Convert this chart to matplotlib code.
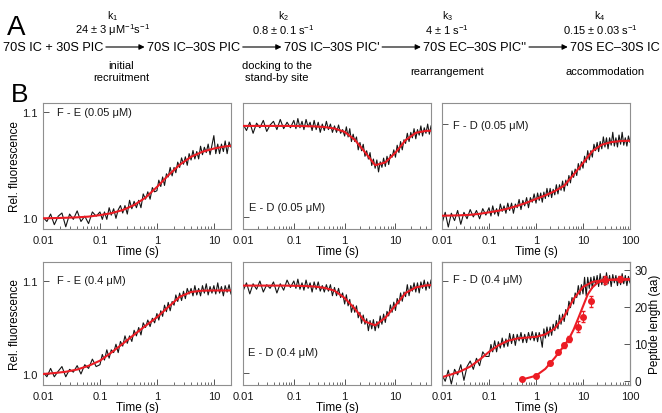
import matplotlib

matplotlib.use("Agg")
import matplotlib.pyplot as plt  # noqa: E402
import numpy as np  # noqa: E402

plt.rcParams.update(
    {
        "font.family": ["Liberation Sans", "DejaVu Sans"],
        "font.size": 8,
        "mathtext.fontset": "custom",
        "mathtext.rm": "Liberation Sans",
        "mathtext.it": "Liberation Sans:italic",
        "mathtext.bf": "Liberation Sans:bold",
    }
)

RED = "#ec1c24"
TRACE = "#141414"
SPINE = "#8f8f8f"
W, H = 662, 414

# stopped-flow sampling times (s), shared by all traces
TIME = [
    0.0100, 0.0117, 0.0136, 0.0158, 0.0185, 0.0215, 0.0251, 0.0293, 0.0341, 0.0398,
    0.0464, 0.0541, 0.0631, 0.0736, 0.0858,
    0.100, 0.110, 0.120, 0.132, 0.145, 0.158, 0.174, 0.191, 0.209, 0.229,
    0.251, 0.275, 0.302, 0.331, 0.363, 0.398, 0.437, 0.479, 0.525, 0.575,
    0.631, 0.692, 0.759, 0.832, 0.912,
    1.00, 1.08, 1.17, 1.26, 1.36, 1.47, 1.58, 1.71, 1.85, 2.00,
    2.15, 2.32, 2.51, 2.71, 2.93, 3.16, 3.41, 3.68, 3.98, 4.30,
    4.64, 5.01, 5.41, 5.84, 6.31, 6.81, 7.36, 7.94, 8.58, 9.26,
    10.0, 10.8, 11.7, 12.6, 13.6, 14.7, 15.8, 17.1, 18.5, 20.0,
    21.5, 23.2, 25.1, 27.1, 29.3, 31.6, 34.1, 36.8, 39.8, 43.0,
    46.4, 50.1, 54.1, 58.4, 63.1, 68.1, 73.6, 79.4, 85.8, 92.6, 100.0,
]

# relative fluorescence, in thousandths above 1.0
FE_005 = [
    1, -3, 4, -6, 2, 5, -8, 4, -1, 7, -3, 2, -5, 6, 2,
    6, -1, 6, -1, 10, 3, 9, 0, 8, 12, 5, 12, 4, 17, 9, 16, 10, 17, 10, 23, 18, 25, 18, 29, 25,
    26, 36, 30, 39, 31, 42, 39, 48, 40, 48, 43, 53, 48, 57, 51, 58, 50, 61, 55, 64,
    56, 63, 56, 68, 60, 67, 62, 70, 60, 69,
    78, 61, 70, 61, 70, 63, 73, 61, 72, 67,
]
ED_005 = [
    101, 94, 103, 91, 102, 97, 105, 93, 100, 104, 95, 106, 96, 103, 97,
    105, 96, 107, 97, 104, 95, 106, 98, 103, 94, 105, 95, 103, 92, 101, 94, 104, 95, 101, 92,
    99, 92, 100, 91, 95,
    88, 98, 87, 96, 82, 90, 82, 87, 73, 81, 72, 79, 66, 72, 63, 70, 56, 63, 53, 62,
    49, 60, 54, 64, 55, 66, 57, 68, 65, 73,
    65, 78, 70, 82, 73, 84, 80, 91, 82, 92, 86, 96, 85, 95, 89, 99, 88, 97, 91, 101, 90, 99,
]
FD_005 = [
    -8, 4, -12, 3, -5, 6, -9, 4, -3, 7, -1, 6, -3, 8, 1,
    9, 0, 11, 2, 8, 0, 13, 5, 11, 3, 14, 6, 14, 3, 13, 9, 18, 7, 17, 11, 20, 9, 20, 15, 24,
    14, 25, 17, 25, 15, 26, 19, 30, 21, 30, 20, 29, 23, 34, 24, 34, 28, 38, 27, 39,
    33, 44, 36, 49, 42, 51, 44, 57, 50, 59,
    52, 65, 58, 71, 61, 71, 64, 78, 71, 80, 70, 81, 73, 86, 75, 85, 73, 85, 77, 91,
    76, 85, 75, 88, 78, 91, 77, 85, 76, 87, 80,
]
FE_04 = [
    2, -3, 6, -3, 3, 8, -3, 5, 2, 9, 0, 10, 6, 16, 8,
    10, 21, 15, 26, 17, 26, 23, 32, 23, 35, 30, 41, 33, 41, 35, 47, 41, 50, 42, 55,
    50, 58, 51, 60, 55,
    65, 58, 68, 62, 74, 67, 77, 68, 78, 74, 85, 78, 87, 79, 89, 81, 92, 86, 92, 84,
    95, 85, 92, 84, 95, 87, 97, 85, 94, 87,
    95, 86, 98, 87, 94, 84, 95, 88, 96, 86,
]
ED_04 = [
    89, 98, 86, 97, 91, 100, 88, 96, 92, 99, 87, 97, 90, 101, 93,
    100, 92, 102, 91, 98, 90, 101, 92, 98, 88, 99, 91, 99, 89, 95, 88, 96, 89, 96, 84,
    93, 84, 92, 82, 87,
    75, 85, 73, 80, 66, 74, 66, 73, 60, 66, 54, 63, 53, 59, 46, 57, 48, 58, 46, 56,
    49, 62, 53, 64, 55, 67, 62, 74, 66, 77,
    68, 81, 75, 87, 78, 88, 83, 96, 84, 95, 89, 98, 88, 98, 87, 99, 92, 101, 90, 99, 92, 101,
]
FD_04 = [
    -2, -9, 3, -12, 4, -2, 9, -8, 7, 13, 4, 16, 8, 23, 18,
    18, 31, 23, 35, 23, 34, 27, 38, 28, 37, 29, 43, 32, 42, 30, 42, 35, 44, 33, 42,
    33, 44, 36, 45, 35,
    44, 34, 44, 38, 28, 48, 38, 50, 40, 50, 41, 53, 46, 57, 48, 63, 53, 64, 56, 69,
    63, 78, 71, 82, 75, 87, 82, 95, 85, 96,
    86, 104, 84, 104, 92, 104, 92, 105, 96, 106, 94, 108, 96, 105, 95, 109, 97, 106, 94, 107,
    98, 106, 95, 105, 96, 108, 97, 106, 95, 105, 98,
]

# fitted curves (thousandths above 1.0)
FIT_TIME = [0.01, 0.0158, 0.0251, 0.0398, 0.0631, 0.1, 0.158, 0.251, 0.398, 0.631,
            1.0, 1.58, 2.51, 3.98, 6.31, 10.0, 15.8, 25.1, 39.8, 63.1, 100.0]
FE_005_FIT = [0.0, 0.2, 0.5, 0.9, 1.6, 3.0, 4.8, 7.8, 12.5, 19.5, 29.5, 40.5, 50.5,
              58.0, 62.8, 65.8, 67.8, 69.0]
ED_005_FIT = [99.0, 99.0, 99.0, 99.0, 99.0, 98.9, 98.8, 98.5, 97.8, 96.2, 92.5, 84.0,
              70.5, 56.3, 59.3, 70.0, 83.5, 91.5, 93.6, 94.0]
FD_005_FIT = [0.3, 0.5, 0.8, 1.3, 2.4, 4.0, 5.7, 8.0, 11.0, 14.5, 18.5, 22.5, 27.0,
              33.0, 45.0, 57.6, 70.5, 77.5, 80.3, 81.5, 81.8]
FE_04_FIT = [0.0, 1.0, 2.4, 4.8, 8.8, 14.3, 23.0, 32.5, 42.3, 51.8, 61.0, 72.0, 83.0,
             88.2, 89.6, 89.8, 89.8, 89.8]
ED_04_FIT = [95.0, 95.0, 95.0, 95.0, 95.0, 94.8, 94.6, 94.0, 92.6, 89.5, 81.5, 70.0,
             56.0, 51.8, 60.0, 73.5, 87.0, 93.0, 95.2, 95.8]
FD_04_FIT = [-4.5, -1.5, 2.0, 7.0, 14.5, 23.0, 30.0, 35.0, 37.5, 38.5, 39.3, 42.0, 48.5,
             61.5, 80.5, 93.5, 99.0, 100.8, 101.3, 101.4, 101.4]

# peptide length (aa) from quench-flow
PEP_TIME = [0.5, 1, 2, 3, 4, 5, 8, 10, 15, 30, 60]
PEP_LEN = [0.5, 1.4, 4.7, 7.7, 9.6, 11.3, 14.6, 17.3, 21.5, 27.2, 27.5]
PEP_ERR = [0.3, 0.4, 0.5, 0.6, 0.7, 0.8, 1.5, 1.5, 1.5, 1.0, 0.8]
PEP_FIT_TIME = [0.5, 0.631, 1.0, 1.58, 2.51, 3.98, 5.01, 6.31, 7.94, 10.0, 12.6, 15.8,
                20.0, 25.1, 39.8, 63.1, 100.0]
PEP_FIT = [0.35, 0.65, 1.35, 3.2, 6.2, 9.5, 11.3, 13.8, 16.9, 20.1, 23.3, 25.2, 26.4,
           26.9, 27.3, 27.4, 27.5]

SPECIES = ["70S IC + 30S PIC", "70S IC\u201330S PIC", "70S IC\u201330S PIC'",
           "70S EC\u201330S PIC''", "70S EC\u201330S IC"]
RATE_NAMES = ["k$_1$", "k$_2$", "k$_3$", "k$_4$"]
RATES = ["24 \u00b1 3 \u03bcM$^{-1}$s$^{-1}$", "0.8 \u00b1 0.1 s$^{-1}$",
         "4 \u00b1 1 s$^{-1}$", "0.15 \u00b1 0.03 s$^{-1}$"]
STEPS = ["initial\nrecruitment", "docking to the\nstand-by site", "rearrangement",
         "accommodation"]

COL_X = [(43, 231), (243, 431), (442, 630)]
ROW_Y = [(104, 230), (263, 386)]
X_MAX = [20, 50, 100]

# row, col, trace, fit, label, label pixel position, ylim, yticks, labelled
PANELS = [
    (0, 0, FE_005, FE_005_FIT, "F - E (0.05 \u03bcM)", (57, 113), (0.98991, 1.10877), [1.0, 1.1], True),
    (0, 1, ED_005, ED_005_FIT, "E - D (0.05 \u03bcM)", (249, 208), (0.98696, 1.12391), [1.0], False),
    (0, 2, FD_005, FD_005_FIT, "F - D (0.05 \u03bcM)", (453, 126), (0.98587, 1.12283), [1.1], False),
    (1, 0, FE_04, FE_04_FIT, "F - E (0.4 \u03bcM)", (57, 281), (0.98817, 1.12043), [1.0, 1.1], True),
    (1, 1, ED_04, ED_04_FIT, "E - D (0.4 \u03bcM)", (248, 353), (0.98696, 1.12065), [1.0], False),
    (1, 2, FD_04, FD_04_FIT, "F - D (0.4 \u03bcM)", (453, 280), (0.98696, 1.12065), [1.1], False),
]


def box(x0, y0, x1, y1):
    return [x0 / W, 1 - y1 / H, (x1 - x0) / W, (y1 - y0) / H]


def style(ax):
    for spine in ax.spines.values():
        spine.set_color(SPINE)
        spine.set_linewidth(0.8)
    ax.tick_params(which="both", direction="in", color="#555555", labelcolor="#1a1a1a",
                   labelsize=8, top=False, right=False)
    ax.tick_params(which="major", length=4, width=0.7, pad=4)
    ax.tick_params(which="minor", length=2.5, width=0.6)


fig = plt.figure(figsize=(W / 100, H / 100), dpi=100)

for row, col, trace, fit, label, (lx, ly), ylim, yticks, labelled in PANELS:
    x0, x1 = COL_X[col]
    y0, y1 = ROW_Y[row]
    ax = fig.add_axes(box(x0, y0, x1, y1))
    ax.set_xscale("log")
    ax.plot(TIME[: len(trace)], 1 + np.array(trace) / 1000, color=TRACE, lw=0.8)
    ax.plot(FIT_TIME[: len(fit)], 1 + np.array(fit) / 1000, color=RED, lw=1.5, zorder=3)
    ax.set_xlim(0.01, X_MAX[col])
    ax.set_ylim(*ylim)
    ticks = [0.01, 0.1, 1, 10] + ([100] if col == 2 else [])
    ax.set_xticks(ticks, ["0.01", "0.1", "1", "10", "100"][: len(ticks)])
    ax.xaxis.set_minor_locator(matplotlib.ticker.LogLocator(subs=np.arange(2, 10)))
    ax.xaxis.set_minor_formatter(matplotlib.ticker.NullFormatter())
    if labelled:
        ax.set_yticks(yticks, [f"{v:.1f}" for v in yticks])
        ax.set_ylabel("Rel. fluorescence", fontsize=8.5, labelpad=1)
    else:
        ax.set_yticks(yticks, [])
    ax.set_xlabel("Time (s)", fontsize=8.5, labelpad=0)
    style(ax)
    ax.text((lx - x0) / (x1 - x0), (y1 - ly) / (y1 - y0), label, transform=ax.transAxes,
            ha="left", va="center", fontsize=8, color="#1a1a1a")
    if (row, col) == (1, 2):
        pep = ax.twinx()
        pep.errorbar(PEP_TIME, PEP_LEN, yerr=PEP_ERR, fmt="o", color=RED, ms=4,
                     elinewidth=0.8, capsize=1.5, zorder=4)
        pep.plot(PEP_FIT_TIME, PEP_FIT, color=RED, lw=1.5)
        pep.set_ylim(-1.16, 32.08)
        pep.set_yticks([0, 10, 20, 30])
        pep.set_ylabel("Peptide length (aa)", fontsize=8.5, labelpad=1)
        for spine in pep.spines.values():
            spine.set_color(SPINE)
            spine.set_linewidth(0.8)
        pep.tick_params(direction="in", length=4, width=0.7, pad=3, color="#555555",
                        labelcolor="#1a1a1a", labelsize=8.5)

# panel A: reaction scheme, laid out left to right with measured text widths
over = fig.add_axes([0, 0, 1, 1])
over.set_xlim(0, W)
over.set_ylim(H, 0)
over.axis("off")
over.text(16, 28, "A", fontsize=20, ha="center", va="center")
over.text(20, 95, "B", fontsize=19, ha="center", va="center")

scheme_y = 48
scheme_size = 9.2
renderer = fig.canvas.get_renderer()
labels = [over.text(0, scheme_y, name, ha="left", va="center", fontsize=scheme_size)
          for name in SPECIES]
widths = [t.get_window_extent(renderer).width for t in labels]
left, right = 3, 660
span = (right - left - sum(widths)) / len(RATES)
gap = 2.5
x = left
for i, t in enumerate(labels):
    t.set_x(x)
    x += widths[i]
    if i < len(RATES):
        over.annotate("", xy=(x + span - gap, scheme_y), xytext=(x + gap, scheme_y),
                      arrowprops=dict(arrowstyle="-|>", lw=0.8, color="black",
                                      mutation_scale=8, shrinkA=0, shrinkB=0))
        x += span

rate_x = [113, 283, 447, 600]
step_x = [121, 277, 447, 605]
for rx, sx, kname, rate, step in zip(rate_x, step_x, RATE_NAMES, RATES, STEPS):
    over.text(rx, 16, kname, ha="center", va="center", fontsize=7.5)
    over.text(rx, 30, rate, ha="center", va="center", fontsize=8)
    over.text(sx, 72, step, ha="center", va="center", fontsize=8, linespacing=1.25)

fig.savefig("out.png", dpi=100)
